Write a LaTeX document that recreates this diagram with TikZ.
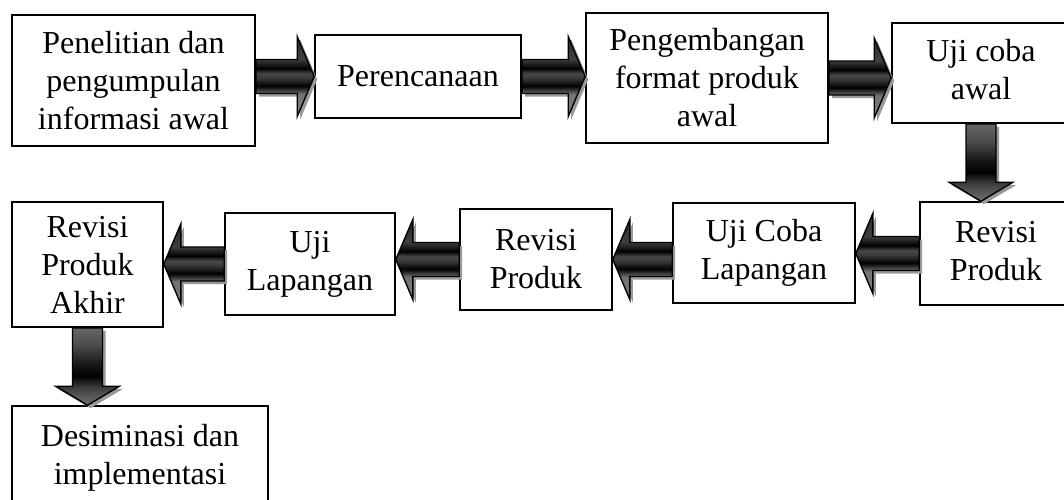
\documentclass[tikz,border=0pt]{standalone}
\usepackage{fontspec}
\setmainfont{Liberation Serif}
\usetikzlibrary{calc}
\pgfdeclareverticalshading{harr}{100bp}{color(0bp)=(black!50); color(25bp)=(black!50); color(39bp)=(black!55); color(44bp)=(black); color(49bp)=(black!78); color(52bp)=(black!72); color(55bp)=(black); color(61bp)=(black!75); color(75bp)=(black!85); color(100bp)=(black!85)}
\pgfdeclareverticalshading{varr}{100bp}{color(0bp)=(black!55); color(25bp)=(black!55); color(36bp)=(black!75); color(44bp)=(black); color(52bp)=(black!90); color(64bp)=(black!70); color(75bp)=(black!60); color(100bp)=(black!60)}
\newcommand\harrow[3]{% #1 source point, #2 tip point, #3 direction (1 right, -1 left)
  \fill[arrowshadow] let \p1=(#1), \p2=(#2) in
    (\x1,{\y2+17pt}) -- ({\x2-(#3)*17pt},{\y2+17pt}) -- ({\x2-(#3)*17pt},{\y2+40pt}) -- (\x2,\y2)
    -- ({\x2-(#3)*17pt},{\y2-40pt}) -- ({\x2-(#3)*17pt},{\y2-17pt}) -- (\x1,{\y2-17pt}) -- cycle;
  \shadedraw[arrowbody, shading=harr] let \p1=(#1), \p2=(#2) in
    (\x1,{\y2+17pt}) -- ({\x2-(#3)*17pt},{\y2+17pt}) -- ({\x2-(#3)*17pt},{\y2+40pt}) -- (\x2,\y2)
    -- ({\x2-(#3)*17pt},{\y2-40pt}) -- ({\x2-(#3)*17pt},{\y2-17pt}) -- (\x1,{\y2-17pt}) -- cycle;
}
\newcommand\varrow[2]{% #1 source point, #2 tip point (downwards)
  \fill[arrowshadow] let \p1=(#1), \p2=(#2) in
    ({\x2-15pt},\y1) -- ({\x2-15pt},{\y2+19pt}) -- ({\x2-32pt},{\y2+19pt}) -- (\x2,\y2)
    -- ({\x2+32pt},{\y2+19pt}) -- ({\x2+15pt},{\y2+19pt}) -- ({\x2+15pt},\y1) -- cycle;
  \shadedraw[arrowbody, shading=varr] let \p1=(#1), \p2=(#2) in
    ({\x2-15pt},\y1) -- ({\x2-15pt},{\y2+19pt}) -- ({\x2-32pt},{\y2+19pt}) -- (\x2,\y2)
    -- ({\x2+32pt},{\y2+19pt}) -- ({\x2+15pt},{\y2+19pt}) -- ({\x2+15pt},\y1) -- cycle;
}
\newcommand\lines[1]{\begin{tabular}{@{}c@{}}#1\end{tabular}}
\begin{document}
\begin{tikzpicture}[x=1pt,y=-1pt,
  box/.style={draw, line width=1.6pt, align=center, inner sep=0pt, fill=white,
    font=\fontsize{32}{38}\selectfont},
  cutbox/.style={draw, line width=1.6pt, inner sep=0pt, fill=white,
    font=\fontsize{32}{38}\selectfont},
  arrowbody/.style={draw=black, line width=1.4pt, line join=miter},
  arrowshadow/.style={fill=black!40, transform canvas={shift={(3pt,-3pt)}}}]
\useasboundingbox (0,0) rectangle (1064,499);
\node[box, minimum width=243pt, minimum height=131pt] (b1) at (133.5,80.5) {Penelitian dan\\pengumpulan\\informasi awal};
\node[box, minimum width=206pt, minimum height=83pt] (b2) at (418,76.5) {Perencanaan};
\node[box, minimum width=242pt, minimum height=130pt] (b3) at (707,78) {Pengembangan\\format produk\\awal};
\node[cutbox, minimum width=198pt, minimum height=100pt] (b4) at (991,73) {\lines{Uji coba\\awal}\kern20pt};
\node[cutbox, minimum width=170pt, minimum height=103pt] (b5) at (1005,253.5) {\lines{Revisi\\Produk}\kern18pt};
\node[box, minimum width=182pt, minimum height=100pt] (b6) at (764,253) {Uji Coba\\Lapangan};
\node[box, minimum width=152pt, minimum height=101pt] (b7) at (536,259.5) {Revisi\\Produk};
\node[box, minimum width=151pt, minimum height=125pt] (b8) at (87.5,264.5) {Revisi\\Produk\\Akhir};
\node[box, minimum width=170pt, minimum height=102pt] (b9) at (310,264) {Uji\\Lapangan};
\node[box, minimum width=256pt, minimum height=104pt] (b10) at (140,458) {Desiminasi dan\\implementasi};
\harrow{b1.east |- b2.west}{b2.west}{1}
\harrow{b2.east}{b3.west |- b2.east}{1}
\harrow{b3.east}{b4.west |- b3.east}{1}
\varrow{b4.south -| 981,0}{b5.north -| 981,0}
\harrow{b5.west}{b6.east |- b5.west}{-1}
\harrow{b6.west |- b7.east}{b7.east}{-1}
\harrow{b7.west}{b9.east |- b7.west}{-1}
\harrow{b9.west}{b8.east |- b9.west}{-1}
\varrow{b8.south}{b10.north -| b8.south}
\end{tikzpicture}
\end{document}
